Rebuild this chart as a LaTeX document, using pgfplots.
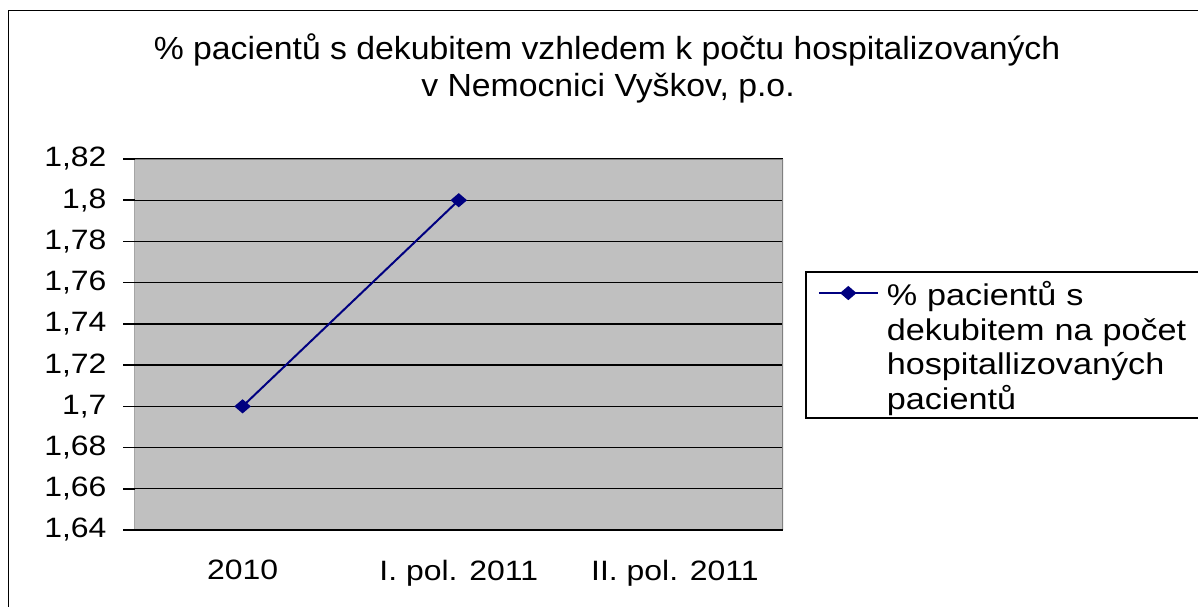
\documentclass[border=0pt]{standalone}
\usepackage{pgfplots}
\pgfplotsset{compat=1.18}
\usepackage{fontspec}
\setmainfont{Liberation Sans}[FakeStretch=1.14]
\newfontfamily\titlefont{Liberation Sans}[FakeStretch=1.055]
\definecolor{navy}{HTML}{000080}
\definecolor{plotgray}{HTML}{C0C0C0}
\definecolor{bordergray}{HTML}{808080}
\begin{document}
\begin{tikzpicture}
\path[use as bounding box] (0pt,0pt) rectangle (599pt,303pt);
\draw[line width=0.9pt] (4.25pt,-10pt) -- (4.25pt,297.75pt) -- (610pt,297.75pt);
\node[anchor=base, font=\titlefont\fontsize{16}{19}\selectfont, inner sep=0pt] at (303.5pt,273pt) {\% pacientů s dekubitem vzhledem k počtu hospitalizovaných};
\node[anchor=base, font=\titlefont\fontsize{16}{19}\selectfont, inner sep=0pt] at (304pt,254.5pt) {v Nemocnici Vyškov, p.o.};
\begin{axis}[
  at={(67.25pt,38pt)}, anchor=south west,
  scale only axis, width=324.25pt, height=185.5pt,
  xmin=0.5, xmax=3.5, ymin=1.64, ymax=1.82,
  axis line style={draw=none},
  axis background/.style={fill=plotgray},
  tick pos=left,
  xtick={1,2,3},
  xticklabels={2010, I. pol. 2011, II. pol. 2011},
  major x tick style={draw=none},
  extra x ticks={0.5,1.5,2.5,3.5},
  extra x tick labels={},
  extra x tick style={major tick length=5pt, tick align=outside, grid=none, tick pos=left, tick style={black, line width=0.75pt}},
  ytick={1.64,1.66,1.68,1.70,1.72,1.74,1.76,1.78,1.80,1.82},
  yticklabels={{1,64},{1,66},{1,68},{1,7},{1,72},{1,74},{1,76},{1,78},{1,8},{1,82}},
  tick align=outside,
  major tick length=5.5pt,
  y tick style={black, line width=0.75pt},
  ymajorgrids,
  grid style={black, line width=0.7pt},
  tick label style={font=\fontsize{14}{16}\selectfont},
  yticklabel style={xshift=-5pt},
  xticklabel style={yshift=-6pt},
  legend style={at={(axis description cs:1.034,0.698)}, anchor=north west,
    draw=black, line width=0.75pt, fill=white,
    inner xsep=6pt, inner ysep=2pt, row sep=0pt,
    font=\fontsize{15}{17.25}\selectfont,
    nodes={inner xsep=1pt, inner ysep=0pt, text height=15pt, text depth=2.25pt, text width=165pt}},
  legend cell align=left,
  legend image code/.code={\draw[#1, mark repeat=2, mark phase=2] plot coordinates {(0pt,0pt) (14.75pt,0pt) (29.5pt,0pt)};},
]
\addplot[navy, line width=1pt, mark=diamond*, mark size=2.9pt, mark options={fill=navy, solid, xscale=1.55}]
  coordinates {(1,1.70) (2,1.80)};
\addlegendentry{\hspace{3pt}\% pacientů s}
\addlegendimage{empty legend}
\addlegendentry{\hspace{3pt}dekubitem na počet}
\addlegendimage{empty legend}
\addlegendentry{\hspace{3pt}hospitallizovaných}
\addlegendimage{empty legend}
\addlegendentry{\hspace{3pt}pacientů}
\draw[bordergray, line width=1pt] (rel axis cs:0,1) -- (rel axis cs:1,1) -- (rel axis cs:1,0);
\draw[black, line width=0.75pt] (rel axis cs:0,1) -- (rel axis cs:0,0) -- (rel axis cs:1,0);
\end{axis}
\end{tikzpicture}
\end{document}
